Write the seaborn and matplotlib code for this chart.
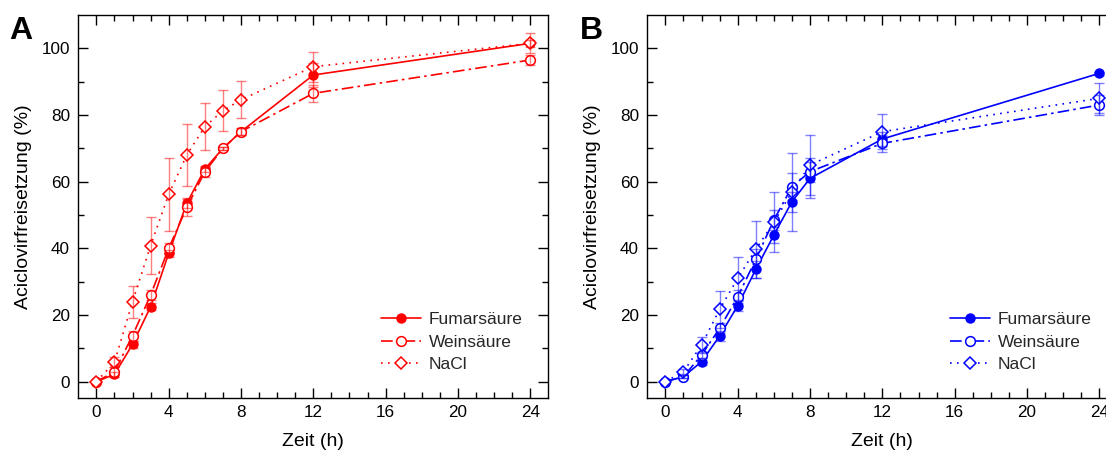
import matplotlib
matplotlib.use("Agg")
import matplotlib.pyplot as plt
from matplotlib.ticker import FixedLocator
import numpy as np
import seaborn as sns

# Sampling times (h)
zeit = [0, 1, 2, 3, 4, 5, 6, 7, 8, 12, 24]

# Panel A: cumulative release (%) and standard deviations
a_fumar = [0, 2.2, 11.2, 22.5, 38.5, 53.5, 63.8, 70.0, 75.0, 92.0, 101.5]
a_fumar_sd = [0, 0.8, 1.0, 1.0, 1.0, 1.5, 1.0, 0.5, 1.0, 3.5, 1.0]
a_wein = [0, 3.0, 13.8, 26.0, 40.0, 52.3, 63.0, 70.0, 75.0, 86.5, 96.5]
a_wein_sd = [0, 1.5, 1.5, 1.5, 1.5, 2.5, 1.5, 0.5, 1.0, 2.5, 1.5]
a_nacl = [0, 5.8, 24.0, 40.8, 56.2, 68.0, 76.5, 81.3, 84.6, 94.5, 101.5]
a_nacl_sd = [0, 1.5, 4.8, 8.5, 11.0, 9.2, 7.0, 6.2, 5.5, 4.5, 3.0]

# Panel B: cumulative release (%) and standard deviations
b_fumar = [0, 1.5, 6.0, 13.7, 22.8, 33.7, 44.0, 54.0, 61.0, 72.8, 92.5]
b_fumar_sd = [0, 0.5, 1.0, 1.5, 1.5, 2.5, 2.5, 3.0, 6.0, 2.0, 0.5]
b_wein = [0, 1.5, 8.0, 16.0, 25.5, 36.7, 48.5, 58.5, 63.0, 71.5, 83.0]
b_wein_sd = [0, 0.5, 1.0, 1.5, 2.0, 3.0, 3.0, 4.0, 3.0, 2.5, 3.0]
b_nacl = [0, 3.0, 11.0, 21.7, 31.0, 39.7, 47.8, 57.0, 65.0, 75.0, 85.0]
b_nacl_sd = [0, 0.8, 2.5, 5.5, 6.5, 8.5, 9.0, 11.7, 9.0, 5.2, 4.5]

labels = ["Fumarsäure", "Weinsäure", "NaCl"]
x_major = [0, 4, 8, 12, 16, 20, 24]
y_major = [0, 20, 40, 60, 80, 100]

sns.set_theme(style="ticks")
plt.rcParams["font.family"] = ["Liberation Sans", "DejaVu Sans"]
plt.rcParams["axes.linewidth"] = 1.0

fig = plt.figure(figsize=(11.06, 4.55), dpi=100)
ax_a = fig.add_axes([0.0708, 0.1246, 0.425, 0.8424])
ax_b = fig.add_axes([0.5853, 0.1246, 0.425, 0.8424])

series_styles = [
    dict(linestyle="-", marker="o", markersize=6.4, mfc=None),
    dict(linestyle=(0, (7, 2.5, 1.5, 2.5)), marker="o", markersize=7.0, mfc="white"),
    dict(linestyle=(0, (1, 3.2)), marker="D", markersize=6.4, mfc="white"),
]


def draw_panel(ax, color, values, sds, letter, letter_x):
    for lab, vals, st in zip(labels, values, series_styles):
        mfc = color if st["mfc"] is None else st["mfc"]
        sns.lineplot(x=zeit, y=vals, ax=ax, color=color, linewidth=1.2,
                     linestyle=st["linestyle"], marker=st["marker"],
                     markersize=st["markersize"], markerfacecolor=mfc,
                     markeredgecolor=color, markeredgewidth=1.1,
                     errorbar=None, label=lab, zorder=3)
    for vals, sd in zip(values, sds):
        t = np.array(zeit)
        v = np.array(vals)
        s = np.array(sd)
        m = s > 0
        ax.errorbar(t[m], v[m], yerr=s[m], fmt="none", ecolor=color,
                    alpha=0.5, elinewidth=1.0, capsize=3.5, capthick=1.0,
                    zorder=4)

    ax.set_xlim(-1, 25)
    ax.set_ylim(-5, 110)
    ax.xaxis.set_major_locator(FixedLocator(x_major))
    ax.xaxis.set_minor_locator(FixedLocator(list(range(0, 25))))
    ax.yaxis.set_major_locator(FixedLocator(y_major))
    ax.yaxis.set_minor_locator(FixedLocator(list(range(10, 101, 10))))
    ax.set_xticklabels([str(v) for v in x_major])
    ax.set_yticklabels([str(v) for v in y_major])
    ax.tick_params(which="both", direction="in", top=True, right=True,
                   color="black", width=1.0, labelsize=12.3, labelcolor="black")
    ax.tick_params(which="major", length=7)
    ax.tick_params(which="minor", length=4)
    ax.tick_params(axis="x", pad=5)
    ax.tick_params(axis="y", pad=6)
    for sp in ax.spines.values():
        sp.set_color("black")
        sp.set_linewidth(1.0)
        sp.set_visible(True)
    ax.set_xlabel("Zeit (h)", fontsize=14, color="black", labelpad=9)
    ax.set_ylabel("Aciclovirfreisetzung (%)", fontsize=14, color="black",
                  labelpad=7)
    ax.legend(loc="lower right", bbox_to_anchor=(0.96, 0.05),
              frameon=False, fontsize=12.5, handlelength=2.3,
              handletextpad=0.45, labelspacing=0.42, borderaxespad=0)
    fig.text(letter_x, 0.915, letter, fontsize=23, fontweight="bold",
             color="black", ha="left", va="baseline")


draw_panel(ax_a, "#ff0000", [a_fumar, a_wein, a_nacl],
           [a_fumar_sd, a_wein_sd, a_nacl_sd], "A", 0.008)
draw_panel(ax_b, "#0000ff", [b_fumar, b_wein, b_nacl],
           [b_fumar_sd, b_wein_sd, b_nacl_sd], "B", 0.524)

fig.savefig("out.png", dpi=100, facecolor="white")
